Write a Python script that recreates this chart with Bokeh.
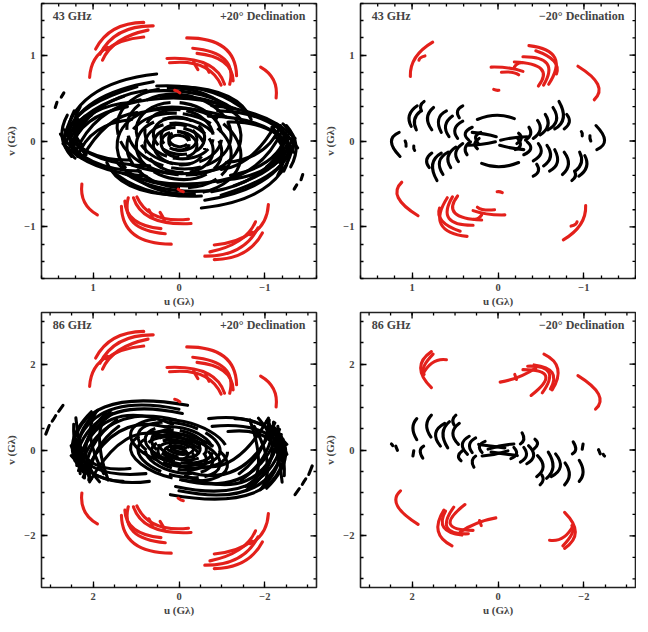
import numpy as np
from bokeh.plotting import figure
from bokeh.models import Label, FixedTicker, Range1d
from bokeh.layouts import column, row
from bokeh.embed import file_html
from bokeh.resources import INLINE

RED = "#e3201b"
FONT = "Liberation Serif"

# each arc: (u_start, v_start, u_mid, v_mid, u_end, v_end) in G-lambda (43 GHz units);
# every track is drawn together with its conjugate (-u, -v)
RED_43_P20 = [
    (0.97, 1.07, 0.75, 1.30, 0.41, 1.38),
    (0.92, 1.01, 0.68, 1.26, 0.30, 1.34),
    (0.89, 0.94, 0.70, 1.16, 0.36, 1.29),
    (0.85, 1.06, 0.66, 1.16, 0.41, 1.21),
    (1.04, 0.74, 0.98, 0.95, 0.83, 1.09),
    (-0.09, 1.20, -0.52, 1.09, -0.67, 0.76),
    (-0.16, 1.08, -0.53, 0.95, -0.59, 0.66),
    (0.14, 0.96, -0.31, 0.90, -0.53, 0.66),
    (0.11, 0.91, -0.27, 0.87, -0.49, 0.65),
    (-0.21, 1.02, -0.52, 0.92, -0.63, 0.70),
    (-0.17, 0.92, -0.19, 0.88, -0.22, 0.83),
    (-0.31, 0.88, -0.33, 0.84, -0.35, 0.80),
    (0.05, 0.59, 0.02, 0.58, -0.01, 0.56),
    (-0.95, 0.86, -1.10, 0.71, -1.13, 0.50),
]

BLACK_43_P20 = [
    (1.44, 0.39, 1.43, 0.42, 1.42, 0.45),
    (1.37, 0.51, 1.355, 0.535, 1.34, 0.56),
    (1.34, -0.01, 1.02, 0.53, 0.26, 0.78),
    (1.30, 0.06, 0.98, 0.46, 0.30, 0.69),
    (1.27, -0.07, 0.94, 0.37, 0.38, 0.59),
    (1.21, -0.14, 0.91, 0.27, 0.45, 0.48),
    (1.13, -0.20, 0.83, 0.18, 0.49, 0.33),
    (1.32, -0.03, 1.09, 0.29, 0.64, 0.52),
    (1.28, 0.14, 1.02, 0.41, 0.49, 0.63),
    (1.25, 0.05, 0.99, 0.33, 0.55, 0.45),
    (1.25, -0.10, 1.05, 0.22, 0.60, 0.40),
    (1.18, -0.18, 0.95, 0.12, 0.55, 0.25),
    (0.26, 0.64, -0.34, 0.58, -0.80, 0.33),
    (0.19, 0.52, -0.38, 0.46, -0.74, 0.23),
    (-0.04, 0.63, -0.57, 0.52, -0.84, 0.25),
    (0.35, 0.58, -0.20, 0.55, -0.62, 0.38),
    (0.65, 0.42, 0.00, 0.50, -0.65, 0.38),
    (0.55, 0.30, 0.00, 0.38, -0.55, 0.28),
    (-0.38, 0.41, -0.95, 0.29, -1.35, 0.03),
    (-0.34, 0.29, -0.91, 0.20, -1.29, -0.05),
    (-0.57, 0.22, -1.03, 0.14, -1.33, -0.13),
    (-0.45, 0.35, -1.00, 0.24, -1.38, -0.08),
    (1.17, 0.25, 1.34, 0.03, 1.21, -0.20),
    (1.09, 0.29, 1.27, 0.05, 1.13, -0.20),
    (1.02, 0.30, 1.20, 0.08, 1.08, -0.16),
    (1.30, 0.30, 1.36, 0.05, 1.25, -0.18),
    (1.22, 0.35, 1.28, 0.10, 1.18, -0.12),
    (1.15, 0.40, 1.22, 0.15, 1.12, -0.05),
]
# nested tracks: (v_centre, full width, full height); drawn at +v_centre and -v_centre
ELL_43_P20 = [
    (0.11, 1.45, 1.00), (0.11, 1.22, 0.86), (0.09, 1.00, 0.71),
    (0.08, 0.80, 0.57), (0.06, 0.60, 0.43), (0.04, 0.42, 0.30), (0.02, 0.24, 0.17),
]

RED_43_M20 = [
    (1.02, 0.75, 0.96, 0.97, 0.76, 1.15),
    (0.92, 0.94, 0.90, 0.97, 0.85, 0.99),
    (-0.36, 1.11, -0.66, 0.97, -0.59, 0.66),
    (-0.29, 0.98, -0.57, 0.90, -0.53, 0.65),
    (-0.19, 0.92, -0.50, 0.84, -0.47, 0.64),
    (0.08, 0.86, -0.12, 0.85, -0.29, 0.81),
    (-0.04, 0.80, -0.16, 0.80, -0.24, 0.77),
    (-0.44, 1.05, -0.65, 0.93, -0.68, 0.78),
    (-0.19, 0.86, -0.23, 0.90, -0.28, 0.91),
    (0.05, 0.60, 0.02, 0.59, -0.01, 0.59),
    (-0.93, 0.87, -1.16, 0.66, -1.12, 0.48),
]

BLACK_43_M20 = [
    (1.15, 0.10, 1.24, -0.01, 1.14, -0.18),
    (1.08, 0.00, 1.07, -0.03, 1.07, -0.06),
    (0.98, -0.06, 0.98, -0.09, 0.97, -0.11),
    (0.94, 0.41, 1.03, 0.30, 1.01, 0.17),
    (0.90, 0.35, 0.97, 0.25, 0.95, 0.13),
    (0.86, 0.46, 0.90, 0.41, 0.89, 0.35),
    (0.75, 0.39, 0.82, 0.27, 0.77, 0.13),
    (0.60, 0.35, 0.69, 0.25, 0.66, 0.10),
    (0.53, 0.29, 0.61, 0.18, 0.57, 0.05),
    (0.41, 0.23, 0.50, 0.14, 0.47, 0.03),
    (0.30, 0.16, 0.38, 0.09, 0.34, 0.01),
    (0.20, 0.10, 0.26, 0.05, 0.23, -0.03),
    (0.66, -0.14, 0.76, -0.27, 0.71, -0.46),
    (0.58, -0.13, 0.68, -0.24, 0.64, -0.39),
    (0.49, -0.07, 0.58, -0.18, 0.55, -0.31),
    (0.41, -0.03, 0.49, -0.13, 0.46, -0.24),
    (0.32, -0.01, 0.38, -0.08, 0.36, -0.16),
    (0.22, 0.03, 0.27, -0.03, 0.24, -0.09),
    (0.77, -0.14, 0.83, -0.22, 0.80, -0.31),
    (0.30, 0.10, 0.15, 0.08, 0.02, 0.05),
    (0.34, -0.05, 0.19, -0.04, 0.03, -0.01),
    (0.24, 0.25, 0.02, 0.30, -0.19, 0.26),
    (0.41, 0.41, 0.47, 0.35, 0.45, 0.27),
]

BLACK_86_P20 = [
    (3.10, 0.37, 3.06, 0.47, 3.02, 0.57),
    (2.95, 0.67, 2.91, 0.73, 2.87, 0.80),
    (2.80, 0.90, 2.75, 0.97, 2.70, 1.04),
    (2.48, -0.02, 1.73, 1.00, -0.20, 1.04),
    (2.42, -0.25, 1.62, 0.81, -0.08, 0.85),
    (2.34, -0.48, 1.51, 0.62, 0.07, 0.70),
    (2.23, -0.63, 1.39, 0.43, 0.22, 0.51),
    (2.08, -0.74, 1.24, 0.24, 0.33, 0.32),
    (2.45, -0.12, 1.68, 0.90, 0.00, 0.95),
    (2.38, -0.36, 1.57, 0.71, 0.15, 0.60),
    (2.04, 0.89, 2.48, 0.13, 2.19, -0.55),
    (1.89, 0.92, 2.34, 0.13, 2.04, -0.67),
    (1.70, 0.85, 2.17, 0.05, 1.85, -0.74),
    (2.30, -0.55, 2.15, 0.20, 1.55, 0.85),
    (2.20, -0.65, 2.00, 0.10, 1.45, 0.70),
    (2.10, -0.70, 1.90, 0.00, 1.40, 0.55),
    (2.45, 0.60, 2.40, 0.00, 2.20, -0.50),
    (2.40, 0.75, 2.30, 0.10, 2.10, -0.60),
    (1.95, 0.85, 2.05, 0.25, 1.75, -0.55),
    (1.60, 0.90, 1.85, 0.30, 1.65, -0.70),
    (-0.69, 0.73, -1.75, 0.66, -2.51, 0.13),
    (-0.77, 0.55, -1.83, 0.47, -2.43, -0.02),
    (-1.14, 0.43, -1.98, 0.32, -2.39, -0.25),
    (-1.30, 0.73, -2.05, 0.51, -2.51, -0.10),
]
ELL_86_P20 = [
    (0.15, 2.30, 1.05), (0.15, 1.95, 0.92), (0.12, 1.60, 0.80), (0.12, 1.30, 0.66),
    (0.10, 1.00, 0.52), (0.10, 0.70, 0.38), (0.08, 0.42, 0.24),
]

RED_86_M20 = [
    (1.55, 2.29, 1.80, 1.91, 1.55, 1.45),
    (1.51, 2.23, 1.72, 1.95, 1.72, 1.76),
    (1.75, 1.76, 1.51, 2.04, 1.20, 2.10),
    (-1.07, 2.23, -1.39, 1.89, -1.26, 1.40),
    (-0.69, 1.95, -1.18, 1.81, -1.03, 1.33),
    (-0.58, 1.87, -1.11, 1.72, -0.77, 1.27),
    (-0.05, 1.58, -0.48, 1.70, -0.88, 1.91),
    (-0.39, 1.76, -0.41, 1.70, -0.43, 1.64),
    (-0.84, 1.98, -1.26, 1.80, -1.22, 1.42),
    (-1.86, 1.73, -2.34, 1.30, -2.27, 0.95),
]

BLACK_86_M20 = [
    (2.48, 0.14, 2.46, 0.12, 2.45, 0.10),
    (2.38, 0.09, 2.36, 0.04, 2.34, -0.01),
    (1.96, -0.02, 1.97, -0.08, 1.98, -0.14),
    (1.73, 0.09, 1.81, -0.02, 1.75, -0.19),
    (1.89, 0.73, 1.98, 0.51, 1.89, 0.24),
    (1.55, 0.81, 1.66, 0.57, 1.56, 0.30),
    (1.24, 0.62, 1.45, 0.39, 1.34, 0.09),
    (1.13, 0.66, 1.28, 0.39, 1.17, 0.05),
    (0.98, 0.81, 1.05, 0.70, 1.02, 0.58),
    (0.90, 0.62, 1.05, 0.39, 0.92, 0.13),
    (0.67, 0.32, 0.83, 0.13, 0.71, -0.10),
    (0.52, 0.28, 0.66, 0.13, 0.60, -0.06),
    (0.30, 0.20, 0.43, 0.09, 0.37, -0.06),
    (0.83, -0.02, 0.92, -0.14, 0.86, -0.25),
    (0.52, -0.14, 0.60, -0.25, 0.56, -0.40),
    (0.45, 0.13, 0.14, 0.09, -0.16, 0.05),
    (0.37, -0.14, 0.07, -0.10, -0.23, -0.02),
]

FREQ_SCALE = {"43 GHz": 1.0, "86 GHz": 2.0}
MAJOR_43 = [-1, 0, 1]
MINOR_43 = [round(-1.6 + 0.2 * i, 1) for i in range(17)]
MAJOR_86 = [-2, 0, 2]
MINOR_86 = [round(-3.0 + 0.5 * i, 1) for i in range(13)]

FRAME = 275
LW = 3.1


def draw_arcs(p, arcs, color, scale=1.0):
    a = np.array(arcs, dtype=float) * scale
    u0, v0, um, vm, u1, v1 = a.T
    cu = 2 * um - (u0 + u1) / 2
    cv = 2 * vm - (v0 + v1) / 2
    for s in (1, -1):
        p.quadratic(x0=s * u0, y0=s * v0, x1=s * u1, y1=s * v1, cx=s * cu, cy=s * cv,
                    line_color=color, line_width=LW, line_cap="round")


def draw_ellipses(p, rings, angle):
    dashes = ["70 7", "48 6 30 8", "55 9", "38 6", "60 8 25 6", "40 7", "30 5"]
    for i, (vc, w, h) in enumerate(rings):
        for s in (1, -1):
            p.ellipse(x=0, y=s * vc, width=w, height=h, angle=angle,
                      fill_color=None, line_color="black", line_width=LW,
                      line_dash=dashes[i % len(dashes)], line_dash_offset=11 * i + (17 if s < 0 else 0))


def frame_ticks(p, lim, major, minor):
    d = 2 * lim / FRAME
    for ticks, n in ((minor, 3), (major, 6)):
        t = np.array(ticks, dtype=float)
        p.segment(x0=t, y0=np.full(len(t), lim), x1=t, y1=np.full(len(t), lim - n * d),
                  line_color="black", line_width=1.3)
        p.segment(x0=np.full(len(t), -lim), y0=t, x1=np.full(len(t), -lim + n * d), y1=t,
                  line_color="black", line_width=1.3)


def make_panel(freq, decl, major, minor, bl, br):
    s = FREQ_SCALE[freq]
    lim = 1.6 * s
    p = figure(x_range=Range1d(lim, -lim), y_range=Range1d(-lim, lim),
               frame_width=FRAME, frame_height=FRAME, output_backend="svg",
               toolbar_location=None, min_border_left=bl, min_border_right=br,
               min_border_top=3, min_border_bottom=30,
               background_fill_color="white", border_fill_color="white")
    p.grid.visible = False
    p.outline_line_color = "#222222"
    p.outline_line_width = 1.6
    overrides = {m: ("\u2212" + str(-m) if m < 0 else str(m)) for m in major}
    for ax in (p.xaxis[0], p.yaxis[0]):
        ax.ticker = FixedTicker(ticks=major, minor_ticks=minor)
        ax.major_label_overrides = overrides
        ax.axis_line_color = None
        ax.major_tick_in = 6
        ax.major_tick_out = 0
        ax.minor_tick_in = 3
        ax.minor_tick_out = 0
        ax.major_tick_line_width = 1.3
        ax.minor_tick_line_width = 1.3
        ax.major_label_text_font = FONT
        ax.major_label_text_font_style = "bold"
        ax.major_label_text_font_size = "10.5px"
        ax.axis_label_text_font = FONT
        ax.axis_label_text_font_style = "bold"
        ax.axis_label_text_font_size = "11px"
    p.xaxis.axis_label = "u (G\u03bb)"
    p.yaxis.axis_label = "v (G\u03bb)"
    p.xaxis.major_label_standoff = 5
    p.xaxis.axis_label_standoff = 1
    p.yaxis.major_label_standoff = 6
    p.yaxis.axis_label_standoff = 4
    frame_ticks(p, lim, major, minor)
    p.add_layout(Label(x=1.47 * s, y=1.37 * s, text=freq, text_font=FONT,
                       text_font_style="bold", text_font_size="12px", text_align="left"))
    p.add_layout(Label(x=-1.47 * s, y=1.37 * s, text=decl, text_font=FONT,
                       text_font_style="bold", text_font_size="12px", text_align="right"))
    return p, s


p1, s1 = make_panel("43 GHz", "+20\u00b0 Declination", MAJOR_43, MINOR_43, 41, 5)
draw_ellipses(p1, ELL_43_P20, -0.15)
draw_arcs(p1, BLACK_43_P20, "black")
draw_arcs(p1, RED_43_P20, RED, s1)

p2, s2 = make_panel("43 GHz", "\u221220\u00b0 Declination", MAJOR_43, MINOR_43, 35, 1)
draw_arcs(p2, BLACK_43_M20, "black")
draw_arcs(p2, RED_43_M20, RED, s2)

p3, s3 = make_panel("86 GHz", "+20\u00b0 Declination", MAJOR_86, MINOR_86, 41, 5)
draw_ellipses(p3, ELL_86_P20, -0.22)
draw_arcs(p3, BLACK_86_P20, "black")
draw_arcs(p3, RED_43_P20, RED, s3)

p4, s4 = make_panel("86 GHz", "\u221220\u00b0 Declination", MAJOR_86, MINOR_86, 35, 1)
draw_arcs(p4, BLACK_86_M20, "black")
draw_arcs(p4, RED_86_M20, RED)

layout = column(row(p1, p2), row(p3, p4))
open("out.html", "w").write(file_html(layout, INLINE))
